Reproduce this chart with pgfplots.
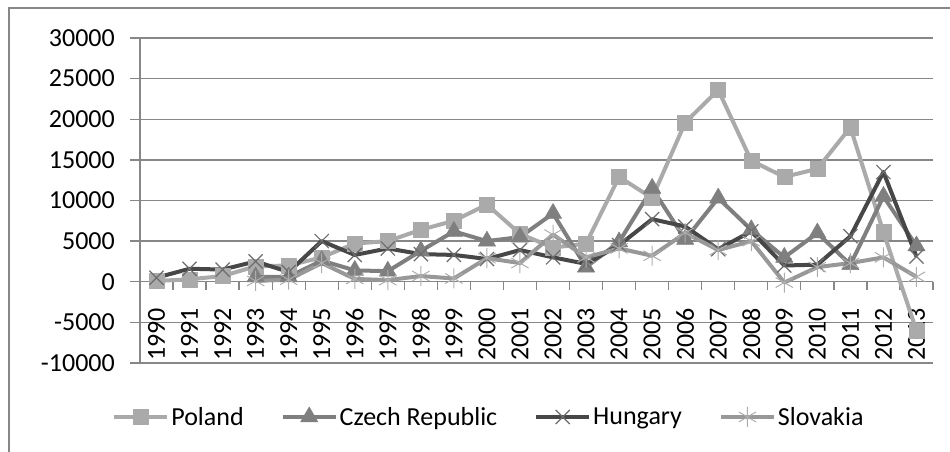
\documentclass[border=0pt]{standalone}
\usepackage{pgfplots}
\pgfplotsset{compat=1.18}
\usepackage{fontspec}
\setmainfont{Carlito}
\definecolor{pl}{HTML}{AAAAAA}
\definecolor{cz}{HTML}{7F7F7F}
\definecolor{hu}{HTML}{474747}
\definecolor{sk}{HTML}{989898}
\definecolor{gridc}{HTML}{878787}
\newcommand{\bigf}{\fontsize{26pt}{30pt}\selectfont}
\begin{document}
\begin{tikzpicture}[x=1pt,y=1pt]
\path[use as bounding box] (0,0) rectangle (950,452);
\draw[gridc, line width=2.5pt] (9,0) -- (9,444) -- (950,444);
\begin{axis}[
  at={(140pt,89pt)}, anchor=south west,
  scale only axis, width=793pt, height=325pt,
  xmin=-0.5, xmax=23.5, ymin=-10000, ymax=30000,
  scaled y ticks=false,
  axis x line*=bottom, axis y line*=left,
  axis line style={gridc, line width=1.3pt},
  ytick={-10000,-5000,0,5000,10000,15000,20000,25000,30000},
  yticklabels={-10000,-5000,0,5000,10000,15000,20000,25000,30000},
  ymajorgrids, grid style={gridc, line width=1.3pt},
  tick align=outside, major tick length=10pt,
  ytick style={gridc, line width=1.3pt},
  xtick style={draw=none},
  xtick={0,...,23},
  xticklabels={1990,1991,1992,1993,1994,1995,1996,1997,1998,1999,2000,2001,2002,2003,2004,2005,2006,2007,2008,2009,2010,2011,2012,2013},
  tick label style={font=\bigf, text=black},
  xticklabel shift=-10pt,
  xticklabel style={rotate=90, anchor=west, inner sep=2pt},
  yticklabel style={anchor=east, inner sep=0pt, xshift=-15pt},
  clip=false,
  line join=round,
  legend columns=4,
  legend style={at={(0.44,-0.166)}, anchor=center, draw=none, fill=none,
    font=\bigf, inner sep=0pt, nodes={inner sep=2pt},
    /tikz/every even column/.append style={column sep=35pt}},
  legend image code/.code={\draw[mark repeat=2,mark phase=2] plot coordinates {(0pt,0pt) (26.5pt,0pt) (53pt,0pt)};},
]
\pgfplotsinvokeforeach{0,...,24}{\draw[gridc, line width=1.3pt] (axis cs:#1-0.5,0) -- ([yshift=-8pt]axis cs:#1-0.5,0);}
\addplot[pl, line width=4pt, mark=square*, mark size=7.5pt, mark options={solid, line width=0.5pt, fill=pl}] coordinates {
(0,100) (1,300) (2,700) (3,1900) (4,2000) (5,3000) (6,4700) (7,5000) (8,6400) (9,7500) (10,9500) (11,5900) (12,4200) (13,4700) (14,12900) (15,10300) (16,19600) (17,23600) (18,14900) (19,12900) (20,13900) (21,19000) (22,6100) (23,-6000)};
\addlegendentry{Poland}
\addplot[cz, line width=4pt, mark=triangle*, mark size=10pt, mark options={solid, line width=0.5pt, fill=cz}] coordinates {
(3,600) (4,600) (5,2600) (6,1400) (7,1300) (8,3800) (9,6200) (10,5000) (11,5500) (12,8400) (13,1800) (14,4900) (15,11500) (16,5200) (17,10300) (18,6400) (19,3000) (20,6000) (21,2100) (22,10500) (23,4400)};
\addlegendentry{Czech Republic}
\addplot[hu, line width=4pt, mark=x, mark size=10pt, mark options={solid, line width=1.2pt, draw=hu!80!white}] coordinates {
(0,500) (1,1600) (2,1500) (3,2500) (4,1200) (5,5000) (6,3300) (7,4100) (8,3400) (9,3300) (10,2800) (11,3900) (12,3000) (13,2200) (14,4500) (15,7700) (16,6800) (17,4000) (18,6200) (19,2000) (20,2100) (21,5600) (22,13500) (23,3100)};
\addlegendentry{Hungary}
\addplot[sk, line width=4pt, mark=asterisk, mark size=10pt, mark options={solid, line width=1pt, draw=sk!80!white}] coordinates {
(3,100) (4,250) (5,2300) (6,350) (7,200) (8,700) (9,400) (10,2900) (11,2300) (12,5800) (13,3000) (14,4100) (15,3200) (16,6000) (17,3900) (18,5000) (19,-100) (20,1800) (21,2300) (22,3000) (23,600)};
\addlegendentry{Slovakia}
\end{axis}
\end{tikzpicture}
\end{document}
